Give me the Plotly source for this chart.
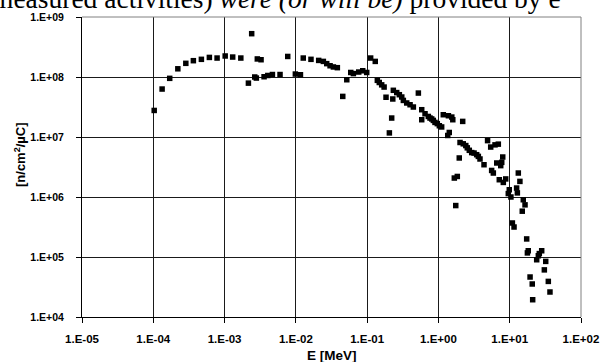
import plotly.graph_objects as go

# Energy [MeV] and fluence [n/cm^2/uC]
energy_mev = [
    1.03e-4, 1.33e-4, 1.70e-4, 2.21e-4, 2.86e-4, 3.65e-4, 4.73e-4, 6.12e-4, 7.85e-4, 1.02e-3,
    1.30e-3, 1.69e-3, 2.40e-3, 2.16e-3, 2.65e-3, 2.79e-3, 2.88e-3, 3.25e-3, 3.58e-3, 4.04e-3,
    4.69e-3, 6.0e-3, 7.69e-3, 9.84e-3, 1.16e-2, 1.27e-2, 1.63e-2, 2.09e-2, 2.43e-2, 2.71e-2,
    3.02e-2, 3.36e-2, 3.82e-2, 4.55e-2, 5.18e-2, 5.89e-2, 6.41e-2, 7.62e-2, 8.67e-2, 9.86e-2,
    0.112, 0.130, 0.139, 0.148, 0.160, 0.173, 0.184, 0.205, 0.221, 0.229,
    0.233, 0.260, 0.283, 0.306, 0.322, 0.359, 0.400, 0.445, 0.523, 0.583,
    0.583, 0.649, 0.722, 0.762, 0.805, 0.848, 0.895, 0.964, 1.03, 1.11,
    1.17, 1.38, 1.54, 1.59, 2.19, 1.42, 1.35, 1.67, 1.84, 1.75,
    1.96, 2.01, 2.23, 2.42, 2.54, 2.71, 2.93, 3.16, 3.44, 3.63,
    3.83, 4.36, 4.89, 5.41, 6.22, 6.92, 7.98, 7.73, 6.58, 7.48,
    5.58, 5.89, 7.14, 8.13, 8.79, 13.2, 13.9, 9.86, 9.55, 10.4,
    12.5, 12.8, 15.5, 16.4, 15.0, 10.9, 11.5, 17.3, 18.2, 17.7,
    28.1, 26.0, 25.2, 23.9, 32.0, 30.6, 19.3, 20.7, 34.8, 36.7,
    21.0,
]
fluence = [
    2.77e7, 6.3e7, 9.5e7, 1.37e8, 1.69e8, 1.87e8, 1.97e8, 2.12e8, 2.07e8, 2.24e8,
    2.15e8, 2.07e8, 5.27e8, 7.9e7, 1.0e8, 9.6e7, 2.0e8, 1.94e8, 1.01e8, 1.06e8,
    1.10e8, 1.10e8, 2.2e8, 1.12e8, 1.09e8, 2.07e8, 1.97e8, 1.89e8, 1.82e8, 1.67e8,
    1.54e8, 1.47e8, 1.43e8, 4.75e7, 9.0e7, 1.19e8, 1.14e8, 1.21e8, 1.27e8, 1.19e8,
    2.07e8, 1.82e8, 8.8e7, 8.1e7, 7.4e7, 6.8e7, 4.6e7, 1.17e7, 2.07e7, 4.3e7,
    6.0e7, 5.5e7, 5.07e7, 4.64e7, 4.07e7, 3.69e7, 3.45e7, 3.16e7, 5.4e7, 2.85e7,
    1.94e7, 2.44e7, 2.20e7, 2.07e7, 2.0e7, 1.89e7, 1.75e7, 1.67e7, 1.54e7, 1.47e7,
    2.35e7, 2.26e7, 2.15e7, 1.94e7, 1.82e7, 1.19e7, 1.06e7, 2.07e6, 2.20e6, 7.2e5,
    4.47e6, 8.1e6, 7.7e6, 7.2e6, 6.6e6, 6.0e6, 5.5e6, 5.4e6, 5.07e6, 4.75e6,
    4.3e6, 3.45e6, 8.7e6, 6.8e6, 7.4e6, 7.6e6, 4.64e6, 3.78e6, 3.69e6, 3.33e6,
    2.77e6, 2.51e6, 1.94e6, 1.75e6, 2.0e6, 2.51e6, 1.82e6, 1.32e6, 1.14e6, 1.0e6,
    1.41e6, 1.17e6, 9.0e5, 7.4e5, 5.8e5, 3.69e5, 3.16e5, 2.0e5, 1.27e5, 1.17e5,
    1.27e5, 1.14e5, 1.05e5, 9.0e4, 8.45e4, 6.1e4, 4.64e4, 3.55e4, 3.92e4, 2.61e4,
    1.94e4,
]

x_tickvals = [1e-5, 1e-4, 1e-3, 1e-2, 1e-1, 1e0, 1e1, 1e2]
x_ticktext = ["1.E-05", "1.E-04", "1.E-03", "1.E-02", "1.E-01", "1.E+00", "1.E+01", "1.E+02"]
y_tickvals = [1e4, 1e5, 1e6, 1e7, 1e8, 1e9]
y_ticktext = ["1.E+04", "1.E+05", "1.E+06", "1.E+07", "1.E+08", "1.E+09"]

x_title = "E [MeV]"
y_title = "[n/cm<sup>2</sup>/µC]"
page_text = "measured activities) <i>were (or will be)</i> provided by e"

FONT = "Liberation Sans, Arial, sans-serif"

fig = go.Figure()
fig.add_trace(go.Scatter(
    x=energy_mev, y=fluence, mode="markers",
    marker=dict(symbol="square", size=5.5, color="black", line=dict(width=0)),
    showlegend=False, cliponaxis=False, hoverinfo="skip",
))

fig.update_layout(
    width=610, height=362,
    margin=dict(l=82, r=29, t=17, b=45),
    paper_bgcolor="white", plot_bgcolor="white",
    font=dict(family=FONT, color="black"),
    xaxis=dict(
        type="log", range=[-5, 2],
        tickvals=x_tickvals, ticktext=x_ticktext,
        tickfont=dict(family=FONT, size=11.5, color="black", weight="bold"),
        ticks="outside", ticklen=5, tickcolor="black", tickwidth=1,
        showgrid=True, gridcolor="#1a1a1a", gridwidth=1,
        showline=True, linecolor="black", linewidth=1,
        zeroline=False, ticklabelstandoff=6,
    ),
    yaxis=dict(
        type="log", range=[4, 9],
        tickvals=y_tickvals, ticktext=y_ticktext,
        tickfont=dict(family=FONT, size=10.5, color="black", weight="bold"),
        ticks="outside", ticklen=5, tickcolor="black", tickwidth=1,
        showgrid=True, gridcolor="#1a1a1a", gridwidth=1,
        showline=True, linecolor="black", linewidth=1,
        zeroline=False, ticklabelstandoff=10,
    ),
    shapes=[
        dict(type="line", xref="paper", yref="paper", x0=0, x1=1, y0=1, y1=1,
             line=dict(color="#808080", width=1), layer="above"),
        dict(type="line", xref="paper", yref="paper", x0=1, x1=1, y0=0, y1=1,
             line=dict(color="#808080", width=1), layer="above"),
    ],
    annotations=[
        dict(text=x_title, xref="paper", yref="paper", x=0.5, y=0,
             xanchor="center", yanchor="top", yshift=-29, showarrow=False,
             font=dict(family=FONT, size=13.5, color="black", weight="bold")),
        dict(text=y_title, xref="paper", yref="paper", x=0, y=0.5,
             xanchor="center", yanchor="middle", xshift=-62, yshift=12,
             textangle=-90, showarrow=False,
             font=dict(family=FONT, size=13, color="black", weight="bold")),
        dict(text=page_text, xref="paper", yref="paper", x=0, y=1,
             xanchor="left", yanchor="bottom", xshift=-92, yshift=1,
             showarrow=False,
             font=dict(family="Liberation Serif, Times New Roman, serif", size=27.5, color="black")),
    ],
)

fig.write_html("out.html",
               config={"displayModeBar": False, "staticPlot": True},
               post_script="document.body.style.margin='0';document.body.style.padding='0';document.body.style.overflow='hidden';")
